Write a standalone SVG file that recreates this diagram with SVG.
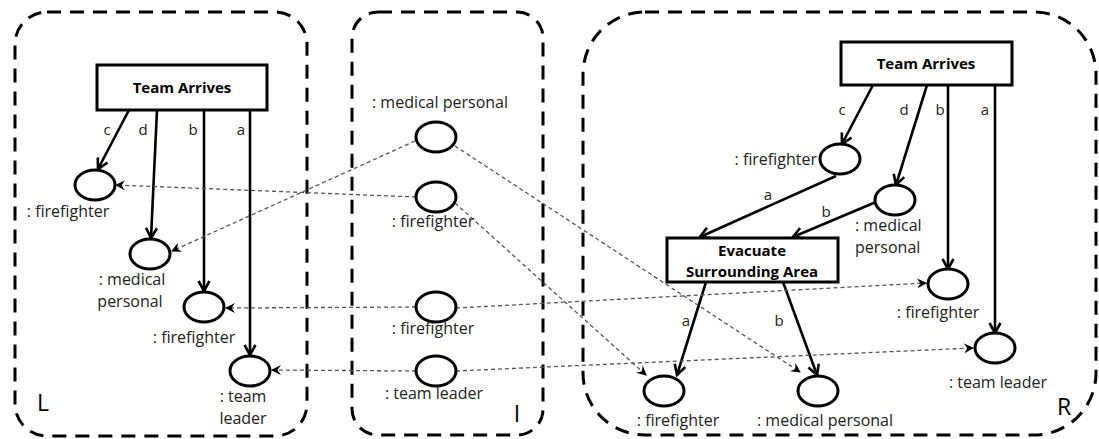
<svg xmlns="http://www.w3.org/2000/svg" width="1099" height="439" viewBox="0 0 1099 439">
<defs>
<style>
.frame{fill:none;stroke:#000;stroke-width:3;stroke-dasharray:14 9}
.box{fill:#fff;stroke:#000;stroke-width:3}
.obj{fill:#fff;stroke:#000;stroke-width:3}
.t{font-family:"Open Sans","Liberation Sans",sans-serif;font-size:16px;fill:#222;text-anchor:middle}
.s{font-family:"Open Sans","Liberation Sans",sans-serif;font-size:15px;fill:#222;text-anchor:middle}
.b{font-family:"Open Sans","Liberation Sans",sans-serif;font-size:15px;font-weight:bold;fill:#000;text-anchor:middle}
.big{font-family:"Open Sans","Liberation Sans",sans-serif;font-size:23px;fill:#000;text-anchor:middle}
.e{fill:none;stroke:#000;stroke-width:2.6;marker-end:url(#ah)}
.m{fill:none;stroke:#555;stroke-width:1.3;stroke-dasharray:4 3;marker-end:url(#dh)}
</style>
<marker id="ah" viewBox="0 0 14 14" refX="12" refY="7" markerWidth="14" markerHeight="14" markerUnits="userSpaceOnUse" orient="auto">
<path d="M2,1.5 L12,7 L2,12.5" fill="none" stroke="#000" stroke-width="2.6"/>
</marker>
<marker id="dh" viewBox="0 0 10 10" refX="9" refY="5" markerWidth="10" markerHeight="10" markerUnits="userSpaceOnUse" orient="auto">
<path d="M0,0 L10,5 L0,10 L3.5,5 Z" fill="#000"/>
</marker>
</defs>

<g id="frames">
<rect class="frame" x="15" y="12" width="292" height="424" rx="32"/>
<rect class="frame" x="352" y="12" width="191" height="423" rx="26"/>
<rect class="frame" x="583" y="12" width="513" height="423" rx="62"/>
<text class="big" x="43" y="411">L</text>
<text class="big" x="517" y="422">I</text>
<text class="big" x="1064" y="415">R</text>
</g>

<g id="connectors">
<!-- L -->
<path class="e" d="M129,110 L98,169"/>
<path class="e" d="M157,110 L151,238"/>
<path class="e" d="M204,110 L204,291"/>
<path class="e" d="M250,110 L250,355"/>
<!-- R -->
<path class="e" d="M873,85 L842,144"/>
<path class="e" d="M927,85 L896,185"/>
<path class="e" d="M948,85 L948,269"/>
<path class="e" d="M995,85 L995,333"/>
<path class="e" d="M836,176 L700,237"/>
<path class="e" d="M876,202 L793,237"/>
<path class="e" d="M706,282 L677,375"/>
<path class="e" d="M783,282 L817,375"/>
<!-- mappings -->
<path class="m" d="M416,197 L116,185"/>
<path class="m" d="M415,141 L172,251"/>
<path class="m" d="M416,307 L226,308"/>
<path class="m" d="M416,371 L272,370"/>
<path class="m" d="M455,146 L800,372"/>
<path class="m" d="M455,203 L646,375"/>
<path class="m" d="M456,308 L926,283"/>
<path class="m" d="M456,371 L973,348"/>
<!-- edge labels -->
<text class="s" x="107" y="135">c</text>
<text class="s" x="143" y="135">d</text>
<text class="s" x="193" y="135">b</text>
<text class="s" x="241" y="135">a</text>
<text class="s" x="842" y="115">c</text>
<text class="s" x="904" y="115">d</text>
<text class="s" x="940" y="115">b</text>
<text class="s" x="985" y="115">a</text>
<text class="s" x="768" y="200">a</text>
<text class="s" x="826" y="217">b</text>
<text class="s" x="686" y="326">a</text>
<text class="s" x="779" y="326">b</text>
</g>

<g id="L-team-arrives">
<rect class="box" x="97" y="65" width="170" height="45"/>
<text class="b" x="182" y="93">Team Arrives</text>
</g>
<g id="L-firefighter-1">
<ellipse class="obj" cx="95" cy="185" rx="20" ry="15"/>
<text class="t" x="68" y="217">: firefighter</text>
</g>
<g id="L-medical">
<ellipse class="obj" cx="150" cy="254" rx="20" ry="15"/>
<text class="t" x="132" y="285">: medical</text>
<text class="t" x="130" y="307">personal</text>
</g>
<g id="L-firefighter-2">
<ellipse class="obj" cx="204" cy="307" rx="20" ry="15"/>
<text class="t" x="194" y="343">: firefighter</text>
</g>
<g id="L-team-leader">
<ellipse class="obj" cx="250" cy="371" rx="20" ry="15"/>
<text class="t" x="243" y="402">: team</text>
<text class="t" x="243" y="424">leader</text>
</g>

<g id="I-medical">
<ellipse class="obj" cx="436" cy="137" rx="20" ry="15"/>
<text class="t" x="440" y="108">: medical personal</text>
</g>
<g id="I-firefighter-1">
<ellipse class="obj" cx="436" cy="197" rx="20" ry="15"/>
<text class="t" x="433" y="227">: firefighter</text>
</g>
<g id="I-firefighter-2">
<ellipse class="obj" cx="436" cy="307" rx="20" ry="15"/>
<text class="t" x="433" y="334">: firefighter</text>
</g>
<g id="I-team-leader">
<ellipse class="obj" cx="436" cy="371" rx="20" ry="15"/>
<text class="t" x="434" y="399">: team leader</text>
</g>

<g id="R-team-arrives">
<rect class="box" x="841" y="42" width="171" height="43"/>
<text class="b" x="926" y="69">Team Arrives</text>
</g>
<g id="R-firefighter-1">
<ellipse class="obj" cx="840" cy="159" rx="20" ry="15"/>
<text class="t" x="817" y="165" style="text-anchor:end">: firefighter</text>
</g>
<g id="R-medical-1">
<ellipse class="obj" cx="895" cy="200" rx="20" ry="15"/>
<text class="t" x="855" y="231" style="text-anchor:start">: medical</text>
<text class="t" x="855" y="253" style="text-anchor:start">personal</text>
</g>
<g id="R-evacuate">
<rect class="box" x="667" y="238" width="171" height="44"/>
<text class="b" x="752" y="256">Evacuate</text>
<text class="b" x="752" y="277">Surrounding Area</text>
</g>
<g id="R-firefighter-2">
<ellipse class="obj" cx="948" cy="284" rx="20" ry="15"/>
<text class="t" x="938" y="318">: firefighter</text>
</g>
<g id="R-team-leader">
<ellipse class="obj" cx="995" cy="348" rx="20" ry="15"/>
<text class="t" x="998" y="388">: team leader</text>
</g>
<g id="R-firefighter-3">
<ellipse class="obj" cx="664" cy="391" rx="20" ry="15"/>
<text class="t" x="678" y="426">: firefighter</text>
</g>
<g id="R-medical-3">
<ellipse class="obj" cx="818" cy="391" rx="20" ry="15"/>
<text class="t" x="825" y="426">: medical personal</text>
</g>
</svg>
